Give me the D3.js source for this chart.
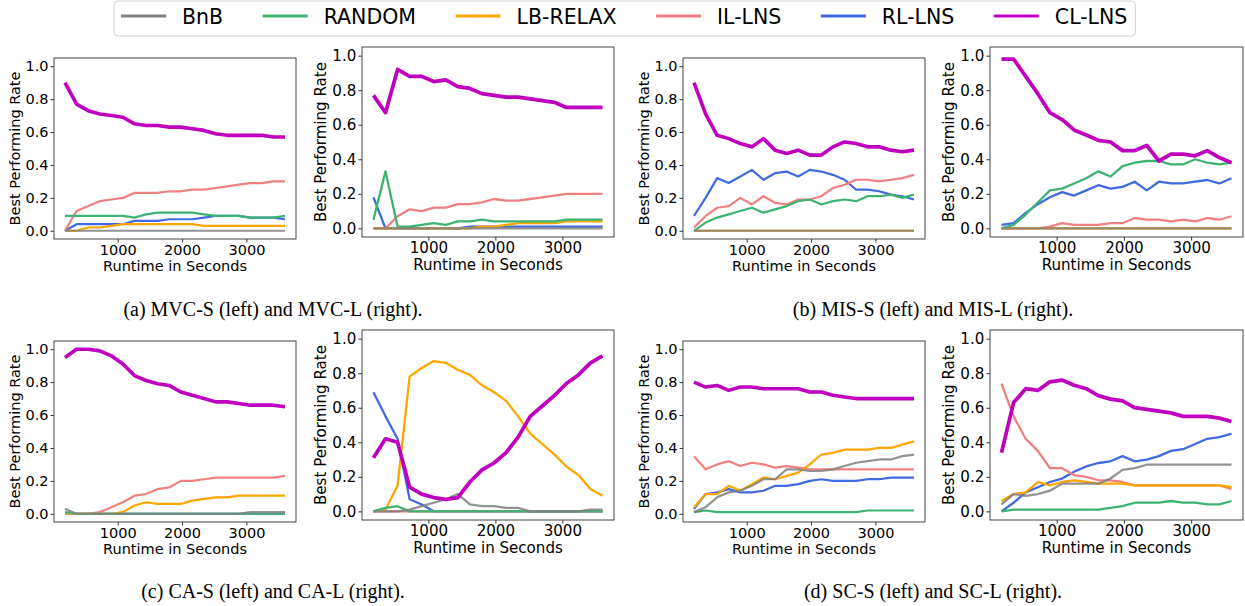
<!DOCTYPE html>
<html lang="en">
<head>
<meta charset="utf-8">
<title>Best Performing Rate over Runtime</title>
<script src="https://d3js.org/d3.v7.min.js"></script>
<style>
    body { margin: 0; background: #fff; }
    svg text { font-family: 'DejaVu Sans', sans-serif; fill: #000; }
</style>
</head>
<body>
<div id="chart-container"></div>
<script>
// runtime (seconds) of every sample point
const runtimes = [180, 360, 540, 720, 900, 1080, 1260, 1440, 1620, 1800, 1980, 2160, 2340, 2520, 2700, 2880, 3060, 3240, 3420, 3600];
const methods = ['BnB', 'RANDOM', 'LB-RELAX', 'IL-LNS', 'RL-LNS', 'CL-LNS'];
const yTicks = [0, 0.2, 0.4, 0.6, 0.8, 1.0];
const xTicks = [1000, 2000, 3000];

// each panel: one row per method, same order as `methods`
const mvcS = [
    [0, 0, 0, 0, 0, 0, 0, 0, 0, 0, 0, 0, 0, 0, 0, 0, 0, 0, 0, 0],
    [0.09, 0.09, 0.09, 0.09, 0.09, 0.09, 0.08, 0.10, 0.11, 0.11, 0.11, 0.11, 0.10, 0.09, 0.09, 0.09, 0.08, 0.08, 0.08, 0.09],
    [0, 0, 0.02, 0.02, 0.03, 0.04, 0.04, 0.04, 0.04, 0.04, 0.04, 0.04, 0.03, 0.03, 0.03, 0.03, 0.03, 0.03, 0.03, 0.03],
    [0, 0.12, 0.15, 0.18, 0.19, 0.20, 0.23, 0.23, 0.23, 0.24, 0.24, 0.25, 0.25, 0.26, 0.27, 0.28, 0.29, 0.29, 0.30, 0.30],
    [0, 0.04, 0.04, 0.04, 0.04, 0.04, 0.06, 0.06, 0.06, 0.07, 0.07, 0.07, 0.08, 0.09, 0.09, 0.09, 0.08, 0.08, 0.08, 0.07],
    [0.90, 0.77, 0.73, 0.71, 0.70, 0.69, 0.65, 0.64, 0.64, 0.63, 0.63, 0.62, 0.61, 0.59, 0.58, 0.58, 0.58, 0.58, 0.57, 0.57]
];
const mvcL = [
    [0, 0, 0, 0, 0, 0, 0, 0, 0, 0, 0, 0, 0, 0, 0, 0, 0, 0, 0, 0],
    [0.05, 0.33, 0.01, 0.01, 0.02, 0.03, 0.02, 0.04, 0.04, 0.05, 0.04, 0.04, 0.04, 0.04, 0.04, 0.04, 0.05, 0.05, 0.05, 0.05],
    [0, 0, 0, 0, 0, 0, 0, 0, 0, 0.01, 0.01, 0.02, 0.03, 0.03, 0.03, 0.03, 0.04, 0.04, 0.04, 0.04],
    [0, 0, 0.07, 0.11, 0.10, 0.12, 0.12, 0.14, 0.14, 0.15, 0.17, 0.16, 0.16, 0.17, 0.18, 0.19, 0.20, 0.20, 0.20, 0.20],
    [0.18, 0, 0, 0, 0, 0, 0, 0, 0.01, 0.01, 0.01, 0.01, 0.01, 0.01, 0.01, 0.01, 0.01, 0.01, 0.01, 0.01],
    [0.77, 0.67, 0.92, 0.88, 0.88, 0.85, 0.86, 0.82, 0.81, 0.78, 0.77, 0.76, 0.76, 0.75, 0.74, 0.73, 0.70, 0.70, 0.70, 0.70]
];
const misS = [
    [0, 0, 0, 0, 0, 0, 0, 0, 0, 0, 0, 0, 0, 0, 0, 0, 0, 0, 0, 0],
    [0, 0.05, 0.08, 0.10, 0.12, 0.14, 0.11, 0.13, 0.15, 0.18, 0.19, 0.16, 0.18, 0.19, 0.18, 0.21, 0.21, 0.22, 0.20, 0.22],
    [0, 0, 0, 0, 0, 0, 0, 0, 0, 0, 0, 0, 0, 0, 0, 0, 0, 0, 0, 0],
    [0.02, 0.09, 0.14, 0.15, 0.20, 0.16, 0.21, 0.17, 0.16, 0.19, 0.19, 0.21, 0.26, 0.28, 0.31, 0.31, 0.30, 0.31, 0.32, 0.34],
    [0.09, 0.20, 0.32, 0.29, 0.33, 0.37, 0.31, 0.35, 0.36, 0.33, 0.37, 0.36, 0.34, 0.31, 0.25, 0.25, 0.24, 0.22, 0.21, 0.19],
    [0.90, 0.71, 0.58, 0.56, 0.53, 0.51, 0.56, 0.49, 0.47, 0.49, 0.46, 0.46, 0.51, 0.54, 0.53, 0.51, 0.51, 0.49, 0.48, 0.49]
];
const misL = [
    [0, 0, 0, 0, 0, 0, 0, 0, 0, 0, 0, 0, 0, 0, 0, 0, 0, 0, 0, 0],
    [0, 0.02, 0.08, 0.15, 0.22, 0.23, 0.26, 0.29, 0.33, 0.30, 0.36, 0.38, 0.39, 0.39, 0.37, 0.37, 0.40, 0.38, 0.37, 0.38],
    [0, 0, 0, 0, 0, 0, 0, 0, 0, 0, 0, 0, 0, 0, 0, 0, 0, 0, 0, 0],
    [0, 0, 0, 0, 0.01, 0.03, 0.02, 0.02, 0.02, 0.03, 0.03, 0.06, 0.05, 0.05, 0.04, 0.05, 0.04, 0.06, 0.05, 0.07],
    [0.02, 0.03, 0.09, 0.14, 0.18, 0.21, 0.19, 0.22, 0.25, 0.23, 0.24, 0.27, 0.22, 0.27, 0.26, 0.26, 0.27, 0.28, 0.26, 0.29],
    [0.98, 0.98, 0.88, 0.78, 0.67, 0.63, 0.57, 0.54, 0.51, 0.50, 0.45, 0.45, 0.48, 0.39, 0.43, 0.43, 0.42, 0.45, 0.41, 0.38]
];
const caS = [
    [0.03, 0, 0, 0, 0, 0, 0, 0, 0, 0, 0, 0, 0, 0, 0, 0, 0.01, 0.01, 0.01, 0.01],
    [0.01, 0, 0, 0, 0, 0, 0, 0, 0, 0, 0, 0, 0, 0, 0, 0, 0, 0, 0, 0],
    [0, 0, 0, 0, 0, 0.01, 0.05, 0.07, 0.06, 0.06, 0.06, 0.08, 0.09, 0.10, 0.10, 0.11, 0.11, 0.11, 0.11, 0.11],
    [0, 0, 0, 0.01, 0.04, 0.07, 0.11, 0.12, 0.15, 0.16, 0.20, 0.20, 0.21, 0.22, 0.22, 0.22, 0.22, 0.22, 0.22, 0.23],
    [0, 0, 0, 0, 0, 0, 0, 0, 0, 0, 0, 0, 0, 0, 0, 0, 0, 0, 0, 0],
    [0.95, 1.00, 1.00, 0.99, 0.96, 0.91, 0.84, 0.81, 0.79, 0.78, 0.74, 0.72, 0.70, 0.68, 0.68, 0.67, 0.66, 0.66, 0.66, 0.65]
];
const caL = [
    [0, 0, 0, 0.01, 0.03, 0.05, 0.07, 0.10, 0.04, 0.03, 0.03, 0.02, 0.02, 0, 0, 0, 0, 0, 0.01, 0.01],
    [0, 0.02, 0.03, 0, 0, 0, 0, 0, 0, 0, 0, 0, 0, 0, 0, 0, 0, 0, 0, 0],
    [0, 0.01, 0.15, 0.78, 0.83, 0.87, 0.86, 0.82, 0.79, 0.73, 0.69, 0.64, 0.55, 0.45, 0.39, 0.33, 0.26, 0.21, 0.13, 0.09],
    [0, 0, 0, 0, 0, 0, 0, 0, 0, 0, 0, 0, 0, 0, 0, 0, 0, 0, 0, 0],
    [0.69, 0.55, 0.42, 0.07, 0.04, 0, 0, 0, 0, 0, 0, 0, 0, 0, 0, 0, 0, 0, 0, 0],
    [0.31, 0.42, 0.40, 0.14, 0.10, 0.08, 0.07, 0.08, 0.17, 0.24, 0.28, 0.34, 0.43, 0.55, 0.61, 0.67, 0.74, 0.79, 0.86, 0.90]
];
const scS = [
    [0.01, 0.04, 0.10, 0.13, 0.14, 0.17, 0.21, 0.21, 0.27, 0.27, 0.26, 0.26, 0.27, 0.29, 0.31, 0.32, 0.33, 0.33, 0.35, 0.36],
    [0.01, 0.02, 0.01, 0.01, 0.01, 0.01, 0.01, 0.01, 0.01, 0.01, 0.01, 0.01, 0.01, 0.01, 0.01, 0.02, 0.02, 0.02, 0.02, 0.02],
    [0.04, 0.12, 0.12, 0.17, 0.14, 0.18, 0.22, 0.21, 0.23, 0.25, 0.30, 0.36, 0.37, 0.39, 0.39, 0.39, 0.40, 0.40, 0.42, 0.44],
    [0.35, 0.27, 0.30, 0.32, 0.29, 0.31, 0.30, 0.28, 0.29, 0.28, 0.27, 0.27, 0.27, 0.27, 0.27, 0.27, 0.27, 0.27, 0.27, 0.27],
    [0.03, 0.12, 0.13, 0.15, 0.13, 0.13, 0.14, 0.17, 0.17, 0.18, 0.20, 0.21, 0.20, 0.20, 0.20, 0.21, 0.21, 0.22, 0.22, 0.22],
    [0.80, 0.77, 0.78, 0.75, 0.77, 0.77, 0.76, 0.76, 0.76, 0.76, 0.74, 0.74, 0.72, 0.71, 0.70, 0.70, 0.70, 0.70, 0.70, 0.70]
];
const scL = [
    [0.04, 0.10, 0.09, 0.10, 0.12, 0.16, 0.16, 0.16, 0.16, 0.19, 0.24, 0.25, 0.27, 0.27, 0.27, 0.27, 0.27, 0.27, 0.27, 0.27],
    [0, 0.01, 0.01, 0.01, 0.01, 0.01, 0.01, 0.01, 0.01, 0.02, 0.03, 0.05, 0.05, 0.05, 0.06, 0.05, 0.05, 0.04, 0.04, 0.06],
    [0.06, 0.10, 0.11, 0.17, 0.15, 0.17, 0.18, 0.17, 0.16, 0.16, 0.16, 0.15, 0.15, 0.15, 0.15, 0.15, 0.15, 0.15, 0.15, 0.14],
    [0.74, 0.55, 0.42, 0.35, 0.25, 0.25, 0.21, 0.20, 0.18, 0.18, 0.17, 0.15, 0.15, 0.15, 0.15, 0.15, 0.15, 0.15, 0.15, 0.13],
    [0, 0.05, 0.11, 0.14, 0.17, 0.19, 0.23, 0.26, 0.28, 0.29, 0.32, 0.29, 0.30, 0.32, 0.35, 0.36, 0.39, 0.42, 0.43, 0.45],
    [0.34, 0.63, 0.71, 0.70, 0.75, 0.76, 0.73, 0.71, 0.67, 0.65, 0.64, 0.60, 0.59, 0.58, 0.57, 0.55, 0.55, 0.55, 0.54, 0.52]
];
const captions = [
    '(a) MVC-S (left) and MVC-L (right).',
    '(b) MIS-S (left) and MIS-L (right).',
    '(c) CA-S (left) and CA-L (right).',
    '(d) SC-S (left) and SC-L (right).'
];

// styles and layout
const width = 1245;
const height = 606;
const colours = ['#808080', '#3cb371', '#ffa500', '#f08080', '#4169e1', '#bf00bf'];
const lineWidths = [2.2, 2.2, 2.2, 2.2, 2.2, 3.6];
const lineOpacity = [0.85, 1, 1, 1, 1, 1];
// BnB sits on top of the other baselines, CL-LNS on top of everything
const drawOrder = [4, 3, 2, 1, 0, 5];
const rowShift = 283;

// left plots of each pair are a little smaller than right ones
const panels = [
    { data: mvcS, x: 54, y: 58, w: 242, h: 181, s: 1, labelGap: 34 },
    { data: mvcL, x: 362, y: 47, w: 252, h: 190, s: 1.04, labelGap: 36 },
    { data: misS, x: 683, y: 58, w: 242, h: 181, s: 1, labelGap: 34 },
    { data: misL, x: 990, y: 47, w: 253, h: 190, s: 1.04, labelGap: 36 },
    { data: caS, x: 54, y: 58 + rowShift, w: 242, h: 181, s: 1, labelGap: 34 },
    { data: caL, x: 362, y: 47 + rowShift, w: 252, h: 190, s: 1.04, labelGap: 36 },
    { data: scS, x: 683, y: 58 + rowShift, w: 242, h: 181, s: 1, labelGap: 34 },
    { data: scL, x: 990, y: 47 + rowShift, w: 253, h: 190, s: 1.04, labelGap: 36 }
];
const captionPos = [
    { x: 273, y: 316 }, { x: 933, y: 316 },
    { x: 273, y: 316 + rowShift - 1 }, { x: 933, y: 316 + rowShift - 1 }
];

const svg = d3.select('#chart-container')
    .append('svg')
    .attr('width', width)
    .attr('height', height);

const xPad = (d3.max(runtimes) - d3.min(runtimes)) * 0.05;

function drawPanel(p) {
    const g = svg.append('g').attr('transform', `translate(${p.x},${p.y})`);
    const fontSize = 14.5 * p.s;

    const xScale = d3.scaleLinear()
        .domain([d3.min(runtimes) - xPad, d3.max(runtimes) + xPad])
        .range([0, p.w]);
    const yScale = d3.scaleLinear()
        .domain([-0.05, 1.05])
        .range([p.h, 0]);

    const xAxis = d3.axisBottom(xScale)
        .tickValues(xTicks)
        .tickFormat(d3.format('d'))
        .tickSizeInner(3.5 * p.s)
        .tickSizeOuter(0)
        .tickPadding(2 * p.s);
    const yAxis = d3.axisLeft(yScale)
        .tickValues(yTicks)
        .tickFormat(d3.format('.1f'))
        .tickSizeInner(3.5 * p.s)
        .tickSizeOuter(0)
        .tickPadding(2 * p.s);

    const gx = g.append('g')
        .attr('transform', `translate(0,${p.h})`)
        .call(xAxis);
    const gy = g.append('g').call(yAxis);
    [gx, gy].forEach(ax => {
        ax.select('.domain').remove();
        ax.attr('font-family', null).attr('font-size', null);
        ax.selectAll('line').attr('stroke', '#333');
        ax.selectAll('text')
            .style('font-size', fontSize + 'px');
    });

    // series lines
    const line = d3.line()
        .x((d, i) => xScale(runtimes[i]))
        .y(d => yScale(d));
    g.selectAll('path.series')
        .data(drawOrder)
        .enter()
        .append('path')
        .attr('class', 'series')
        .attr('d', k => line(p.data[k]))
        .attr('fill', 'none')
        .attr('stroke', k => colours[k])
        .attr('stroke-opacity', k => lineOpacity[k])
        .attr('stroke-width', k => lineWidths[k] * p.s)
        .attr('stroke-linejoin', 'round');

    // frame
    g.append('rect')
        .attr('width', p.w)
        .attr('height', p.h)
        .attr('fill', 'none')
        .attr('stroke', '#444')
        .attr('stroke-width', 1);

    // axis titles
    g.append('text')
        .attr('x', p.w / 2)
        .attr('y', p.h + 32 * p.s)
        .attr('text-anchor', 'middle')
        .style('font-size', fontSize + 'px')
        .text('Runtime in Seconds');
    g.append('text')
        .attr('transform', `translate(${-p.labelGap},${p.h / 2}) rotate(-90)`)
        .attr('text-anchor', 'middle')
        .style('font-size', fontSize + 'px')
        .text('Best Performing Rate');
}

panels.forEach(drawPanel);

// captions
svg.selectAll('text.caption')
    .data(captions)
    .enter()
    .append('text')
    .attr('class', 'caption')
    .attr('x', (d, i) => captionPos[i].x)
    .attr('y', (d, i) => captionPos[i].y)
    .attr('text-anchor', 'middle')
    .style('font-family', "'Liberation Serif', 'Times New Roman', serif")
    .style('font-size', '20px')
    .text(d => d);

// legend
const legend = svg.append('g');
const legendBox = legend.append('rect');
let cursor = 121;
methods.forEach((m, i) => {
    legend.append('line')
        .attr('x1', cursor)
        .attr('x2', cursor + 45)
        .attr('y1', 16)
        .attr('y2', 16)
        .attr('stroke', colours[i])
        .attr('stroke-width', 3.2);
    const t = legend.append('text')
        .attr('x', cursor + 61)
        .attr('y', 24)
        .style('font-size', '20.5px')
        .text(m);
    cursor += 61 + t.node().getComputedTextLength() + 39.5;
});
legendBox
    .attr('x', 114)
    .attr('y', 1)
    .attr('width', cursor - 39.5 + 8 - 114)
    .attr('height', 35)
    .attr('rx', 4)
    .attr('fill', '#fff')
    .attr('stroke', '#d0d0d0')
    .attr('stroke-width', 1);
</script>
</body>
</html>
